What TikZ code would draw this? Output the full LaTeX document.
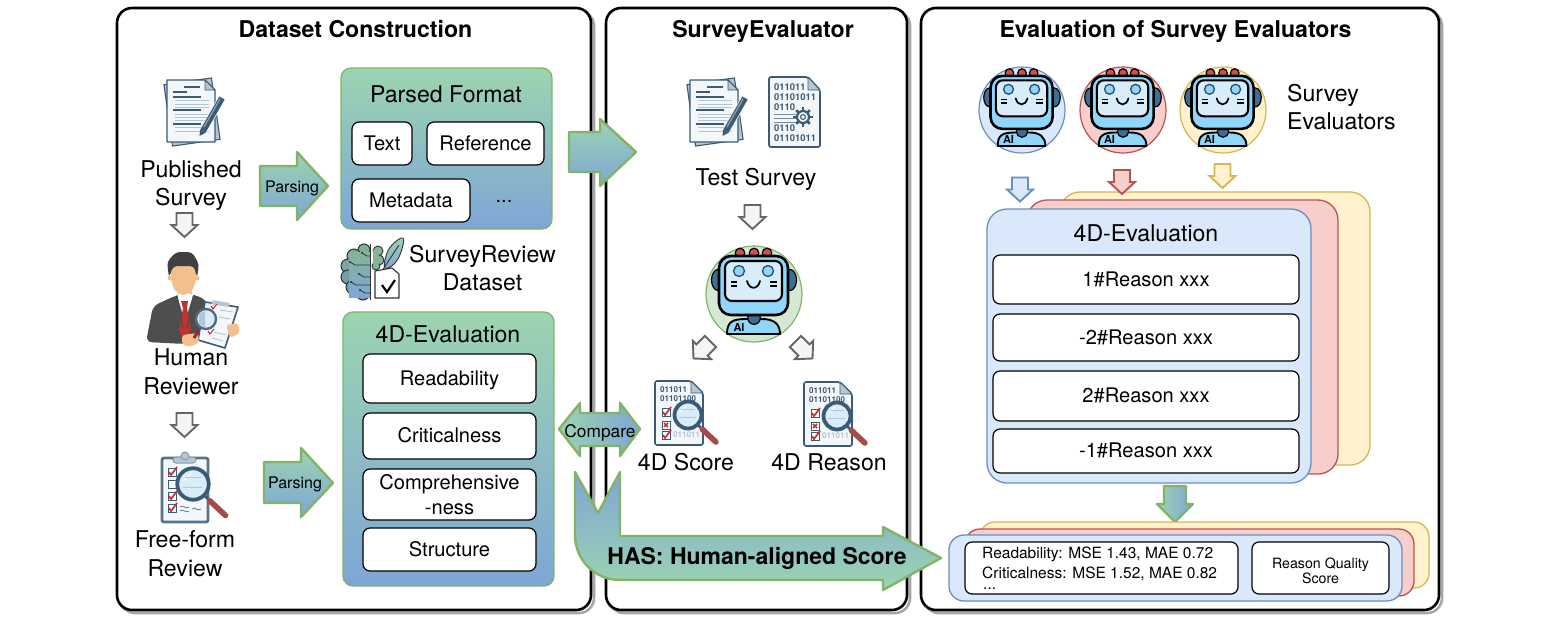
\documentclass[tikz,border=0pt]{standalone}
\usepackage{fontspec}
\setmainfont{TeX Gyre Heros}
\definecolor{gradverde}{HTML}{9CD4B0}
\definecolor{gradazul}{HTML}{7EA6D6}
\definecolor{verdeb}{HTML}{82B366}
\definecolor{verdef}{HTML}{D5E8D4}
\definecolor{azulb}{HTML}{6C8EBF}
\definecolor{azulf}{HTML}{DAE8FC}
\definecolor{vermb}{HTML}{B85450}
\definecolor{vermf}{HTML}{F8CECC}
\definecolor{amarb}{HTML}{D6B656}
\definecolor{amarf}{HTML}{FFF2CC}
\definecolor{ceu}{HTML}{8FD6FA}
\definecolor{tela}{HTML}{D8EDF9}
\definecolor{marinho}{HTML}{3F6E94}
\definecolor{ardosia}{HTML}{3C5A73}
\definecolor{folha}{HTML}{F3F7FA}
\definecolor{nevoa}{HTML}{B4C6D4}
\definecolor{pele}{HTML}{F2C08F}
\definecolor{terno}{HTML}{4E4E4E}
\definecolor{gravata}{HTML}{C0322F}
\tikzset{
panel/.style={draw=black, line width=2.6pt, fill=white, rounded corners=15pt},
sombra/.style={draw=black!35, line width=2.6pt, rounded corners=15pt},
titulo/.style={inner sep=0pt, anchor=base, font=\fontsize{23.1}{27}\selectfont\bfseries},
texto/.style={inner sep=0pt, align=center, font=\fontsize{23.1}{28.5}\selectfont},
menor/.style={inner sep=0pt, align=center, font=\fontsize{20.1}{24.5}\selectfont},
seta12/.style={inner sep=0pt, font=\fontsize{16}{18}\selectfont},
gbox/.style={draw=verdeb, line width=1.3pt, rounded corners=10pt, top color=gradverde, bottom color=gradazul},
wbox/.style={draw=black, line width=1.2pt, fill=white, rounded corners=7pt, inner sep=0pt, align=center,
  font=\fontsize{20.1}{24.5}\selectfont},
linha/.style={text height=14.5pt, text depth=1pt},
seta/.style={draw=verdeb, line width=2.4pt, line join=round},
camada/.style={line width=1.3pt, rounded corners=#1}
}
\tikzset{
pics/hollow/.style={code={
  \draw[pic actions, line width=1.9pt, line join=miter]
    (-8,-12) -- (8,-12) -- (8,0) -- (13,0) -- (0,12) -- (-13,0) -- (-8,0) -- cycle;
}},
pics/lupa/.style={code={
  \draw[line cap=round, line width=2.6pt, draw=ardosia] (11,11) -- (16,16);
  \draw[line cap=round, line width=5.6pt, draw=vermb!90!black] (16,16) -- (31,30);
  \draw[draw=ardosia, line width=3.8pt, fill=tela] (0,0) circle[radius=15];
  \draw[white, line width=1pt] (-9,-3) -- (-2,-10);
  \draw[nevoa, line width=.8pt] (-10,3) -- (9,3) (-8,-6) -- (8,-6);
}},
pics/marca/.style={code={
  \draw[draw=ardosia, line width=.8pt, fill=white] (-4,-4) rectangle (4,4);
  \draw[draw=gravata, line width=1.7pt] (-3,0) -- (-1,3) -- (5,-5);
}},
pics/papel/.style={code={
  % folha de tras
  \draw[rotate=8, draw=ardosia, line width=1.1pt, fill=nevoa] (-24,-31) rectangle (24,31);
  \draw[draw=ardosia, line width=1.1pt, fill=folha, line join=round]
    (-25,-32) -- (13,-32) -- (23,-22) -- (23,30) -- (-25,30) -- cycle;
  \draw[draw=ardosia, line width=.8pt, fill=nevoa] (13,-32) -- (13,-22) -- (23,-22) -- cycle;
  % linhas
  \draw[ardosia, line width=1.1pt] (-8,-25) -- (8,-25) (-19,-20) -- (-5,-20)
    (-19,-15) -- (9,-15) (-19,-2) -- (9,-2) (-19,12) -- (9,12);
  \foreach \ly in {-12,-8,-5,2,5,8,15,19} \draw[nevoa, line width=1pt] (-17,\ly) -- (17,\ly);
  % caneta
  \draw[folha, line width=7.5pt] (30,-14) -- (11,19);
  \draw[ardosia, line width=6pt] (30,-14) -- (11,19);
  \draw[ardosia!60, line width=1.4pt] (28,-13) -- (12,15);
  \fill[ardosia] (13.8,20.6) -- (7.5,24) -- (8.2,17.5) -- cycle;
}},
pics/binario/.style={code={
  \draw[draw=ardosia, line width=1.7pt, fill=folha, line join=round, rounded corners=2pt]
    (-26,-35) -- (13,-35) -- (25,-22) -- (25,35) -- (-26,35) -- cycle;
  \draw[draw=ardosia, line width=.8pt, fill=nevoa, line join=round] (13,-35) -- (13,-22) -- (25,-22) -- cycle;
  \foreach \ly/\dig/\nm in {-25/011011/a,-15/01101011/b,-5/0110/c,16/0110/d,26/01101011/e}
    \node[anchor=west, inner sep=0pt, text=ardosia, font=\fontsize{9.4}{10}\selectfont\bfseries] (dig\nm) at (-21,\ly) {\dig};
  \foreach \ly in {2,6,10} \draw[ardosia!70, line width=1pt] (-21,\ly) -- (1,\ly);
  % engrenagem
  \foreach \ang in {0,45,...,315}
    \draw[ardosia, line width=2.6pt] (8,5) ++(\ang:6) -- ++(\ang:3.6);
  \draw[draw=ardosia, line width=2.2pt, fill=folha] (8,5) circle[radius=6];
  \draw[draw=ardosia, line width=1pt, fill=tela] (8,5) circle[radius=2.5];
}},
pics/nota/.style={code={
  \draw[draw=ardosia, line width=1.6pt, fill=folha, line join=round, rounded corners=2pt]
    (-24,-32) -- (12,-32) -- (24,-20) -- (24,32) -- (-24,32) -- cycle;
  \draw[draw=ardosia, line width=.8pt, fill=nevoa, line join=round] (12,-32) -- (12,-20) -- (24,-20) -- cycle;
  \foreach \ly/\dig/\nm in {-23/011011/a,-14/01101100/b}
    \node[anchor=west, inner sep=0pt, text=ardosia, font=\fontsize{8.1}{9}\selectfont\bfseries] (dig\nm) at (-19,\ly) {\dig};
  \node[anchor=west, inner sep=0pt, text=nevoa, font=\fontsize{8.1}{9}\selectfont\bfseries] (digc) at (-6,22) {011011};
  \pic at (-13,-1) {marca};
  \draw[draw=ardosia, line width=.8pt, fill=white] (-17,8) rectangle (-9,16);
  \draw[draw=gravata, line width=1.6pt] (-15,10) -- (-11,14) (-15,14) -- (-11,10);
  \pic at (-13,22) {marca};
  \pic[scale=.9] at (9,2) {lupa};
}},
pics/prancheta/.style={code={
  \draw[draw=ardosia!85, line width=2.8pt, fill=folha, rounded corners=2pt] (-23,-32) rectangle (23,32);
  \draw[draw=ardosia!60, line width=1pt, fill=nevoa, rounded corners=3pt] (-12,-33) rectangle (11,-27);
  \draw[draw=ardosia!60, line width=1pt, fill=nevoa] (0,-34) circle[radius=4];
  \pic at (-13,-18) {marca};
  \draw[draw=ardosia, line width=.8pt, fill=white] (-17,-10) rectangle (-9,-2);
  \pic at (-13,6) {marca};
  \pic at (-13,18) {marca};
  \draw[ardosia!80, line width=.8pt] (-5,17) .. controls (-2,14) and (1,20) .. (4,17)
    (-5,21) .. controls (-2,18) and (1,24) .. (4,21) (7,19) .. controls (10,16) and (13,22) .. (16,19);
  \pic[scale=1.05] at (8,-6) {lupa};
}},
pics/revisor/.style={code={
  \fill[terno, rounded corners=6pt] (-9,-5) -- (-33,6) -- (-40,42) -- (-1,44) -- (12,42) -- (22,2) -- (11,-5) -- cycle;
  \fill[pele] (-8,-14) rectangle (6,0);
  \fill[white] (-9,-5) -- (-2,-8) -- (7,-5) -- (-1,22) -- cycle;
  \fill[gravata] (-5,1) -- (2,1) -- (1,8) -- (5,30) -- (-1,45) -- (-7,30) -- (-3,8) -- cycle;
  \draw[black!70, line width=1pt] (-9,-5) -- (-3,28) (9,-5) -- (1,28);
  % cabeca
  \fill[pele, rounded corners=7pt] (-15,-36) -- (10,-36) -- (10,-16) -- (3,-5) -- (-8,-5) -- (-15,-16) -- cycle;
  \fill[pele] (-16,-22) circle[radius=2.5] (11,-22) circle[radius=2.5];
  \fill[black!75, rounded corners=4pt] (-17,-22) -- (-19,-38) -- (-10,-48) -- (6,-48) -- (13,-36) -- (11,-22) -- (8,-34) -- (-13,-34) -- cycle;
  % prancheta
  \draw[draw=ardosia, line width=1.6pt, fill=folha, line join=round] (19,2) -- (52,7) -- (39,48) -- (12,40) -- cycle;
  \fill[nevoa, rounded corners=1.5pt] (26,0) -- (44,3) -- (43,7) -- (25,4) -- cycle;
  \draw[nevoa, line width=.9pt] (34,10) -- (47,12) (33,17) -- (44,19) (28,32) -- (40,35) (26,38) -- (37,41);
  \draw[gravata, line width=1pt] (25,6) -- (27,9) -- (31,4) (22,31) -- (24,34) -- (28,29);
  % maos e lupa
  \fill[pele, rounded corners=3pt] (40,25) -- (52,23) -- (54,33) -- (44,38) -- cycle;
  \fill[pele, rounded corners=3pt] (-4,35) -- (12,33) -- (13,43) -- (3,47) -- (-4,44) -- cycle;
  \draw[gravata!80!black, line width=3pt] (13,30) -- (8,38);
  \draw[draw=ardosia!90, line width=2.4pt, fill=tela] (20,19) circle[radius=10];
  \fill[nevoa] (13,14) -- (19,11) -- (19,27) -- (13,24) -- cycle;
}},
pics/cerebro/.style={code={
  % lobos
  \begin{scope}
    \clip (-40,-30) rectangle (-2,35);
    \foreach \lx/\ly/\lr/\mix in {-8/-18/6/15,-18/-12/7/25,-24/-2/7/40,-24/9/7/55,-19/19/7/70,-9/25/7/85}
      \draw[draw=black!80, line width=1pt, fill=gradazul!\mix!gradverde!85!black] (\lx,\ly) circle[radius=\lr];
    \shade[top color=gradverde!85!black, bottom color=gradazul] (-23,-16) rectangle (-2,29);
  \end{scope}
  \draw[black!80, line width=1pt] (-2,-24) -- (-2,32);
  \foreach \lx/\ly/\lr in {6/-17/5,7/-8/5,4/-2/4}
    \draw[draw=black!80, line width=.9pt, fill=gradverde!85!black] (\lx,\ly) circle[radius=\lr];
  \fill[gradverde!85!black] (1,-18) rectangle (7,-4);
  \foreach \pa/\pb in {-22/-6,-13/6,-21/14,-10/-15,-12/22}
    \draw[black!80, line width=.8pt] (\pa,\pb) -- ++(5,3) -- (-2,\pb+3);
  \foreach \pa/\pb in {-22/-6,-13/6,-21/14,-10/-15,-12/22}
    \fill[black!80] (\pa,\pb) circle[radius=1.2];
  % pena
  \draw[draw=black!80, line width=.9pt, top color=gradverde, bottom color=gradazul]
    plot[smooth cycle, tension=.7] coordinates {(31,-30) (29,-16) (22,-4) (13,0) (14,-12) (20,-23)};
  \draw[black!80, line width=.9pt] (27,-23) -- (8,6);
  % documento
  \draw[draw=black!80, line width=1.1pt, fill=white, line join=round] (3,3) -- (20,0) -- (27,6) -- (27,30) -- (3,30) -- cycle;
  \draw[black, line width=2.2pt] (10,17) -- (15,24) -- (23,12);
}},
pics/robo/.style={code={
  \foreach \bx in {-14,0,13} \draw[draw=black, line width=1.2pt, fill=gravata!85] (\bx,-41) circle[radius=4.8];
  \foreach \ex in {-36,36} \draw[draw=black, line width=1.2pt, fill=marinho] (\ex,-14) ellipse[x radius=6.5, y radius=10.5];
  \draw[draw=black, line width=1.9pt, fill=ceu, line join=round] (-27,40) .. controls (-27,28) and (-22,25) .. (-8,25)
    -- (8,25) .. controls (20,25) and (26,30) .. (26,40) -- cycle;
  \draw[black, line width=2.4pt] (-27,40) -- (26,40);
  \draw[draw=black, line width=1.2pt, fill=marinho] (0,24) circle[radius=6.3];
  \draw[draw=black, line width=2.6pt, fill=ceu, rounded corners=12pt] (-35,-38) rectangle (34,21);
  \draw[draw=black, line width=2.1pt, fill=tela, rounded corners=7pt] (-29,-33) rectangle (28,7);
  \foreach \ex in {-15,14} \draw[draw=marinho!70!black, line width=1.3pt, fill=ceu] (\ex,-23) circle[radius=5.5];
  \draw[black, line width=1.7pt, line cap=round] (-7,-13) .. controls (-5,-4) and (4,-4) .. (6,-13);
  \draw[black, line width=1.4pt] (-23,-12) -- (-17,-12) (-23,-8) -- (-17,-8) (16,-12) -- (23,-12) (16,-8) -- (23,-8);
  \node[inner sep=0pt, font=\fontsize{11}{12}\selectfont\bfseries] (ai) at (-15,33) {AI};
}}
}
\begin{document}
\begin{tikzpicture}[x=1pt,y=-1pt]
  \path[use as bounding box, fill=white] (0,0) rectangle (1557,624);

  % PAINEIS
  \foreach \xa/\xb in {117/591,606/907,921/1439} {
    \draw[sombra] (\xa+3,11) rectangle (\xb+3,613);
    \draw[panel] (\xa,8) rectangle (\xb,610);
  }
  \node[titulo] (t1) at (355.5,37) {Dataset Construction};
  \node[titulo] (t2) at (763,37) {SurveyEvaluator};
  \node[titulo] (t3) at (1175.5,37) {Evaluation of Survey Evaluators};

  % COLUNA ESQUERDA
  \pic (p1) at (192,112) {papel};
  \node[texto] (pub) at (191,185.5) {Published\\Survey};
  \pic[draw=black!60, fill=black!4] (a1) at (184.5,225) {hollow};
  \pic (hr) at (186,300) {revisor};
  \node[texto] (hum) at (191,371.5) {Human\\Reviewer};
  \pic[draw=black!60, fill=black!4] (a2) at (184.5,425) {hollow};
  \pic (cb) at (185,490) {prancheta};
  \node[texto] (ffr) at (185,553.5) {Free-form\\Review};

  % PARSING
  \draw[seta, top color=gradverde, bottom color=gradazul] (260,166) -- (297,166) -- (297,152) -- (328,186) -- (297,220) -- (297,206) -- (260,206) -- cycle;
  \node[seta12] (par1) at (292,188) {Parsing};
  \draw[seta, top color=gradverde, bottom color=gradazul] (264,462) -- (301,462) -- (301,448) -- (333,483) -- (301,517) -- (301,503) -- (264,503) -- cycle;
  \node[seta12] (par2) at (295,484) {Parsing};

  % FORMATO
  \draw[gbox] (341,68) rectangle (552,229);
  \node[texto] (pf) at (446,94) {Parsed Format};
  \node[wbox, linha, minimum width=60pt, minimum height=43pt] (txt) at (382,143.5) {Text};
  \node[wbox, linha, minimum width=117pt, minimum height=43pt] (ref) at (485.5,143.5) {Reference};
  \node[wbox, linha, minimum width=118pt, minimum height=43pt] (meta) at (411,200.5) {Metadata};
  \node[menor] (dots) at (504,201) {...};

  \pic (br) at (372,268) {cerebro};
  \node[texto] (srd) at (482.5,268) {SurveyReview\\Dataset};

  % 4D A ESQUERDA
  \draw[gbox] (343,312) rectangle (554,586);
  \node[texto] (ev1) at (448,334) {4D-Evaluation};
  \foreach \cy/\alt/\nm/\lb in {378.5/49/rd/Readability,436/46/cr/Criticalness,549.5/43/st/Structure}
    \node[wbox, linha, minimum width=173pt, minimum height=\alt pt] (\nm) at (449.5,\cy) {\lb};
  \node[wbox, minimum width=173pt, minimum height=51pt] (co) at (449.5,494.5) {Comprehensive\\-ness};

  % SURVEY EVALUATOR
  \draw[seta, top color=gradverde, bottom color=gradazul] (569,132) -- (600,132) -- (600,119) -- (636,152) -- (600,186) -- (600,172) -- (569,172) -- cycle;
  \pic (p2) at (715,112) {papel};
  \pic (bn) at (795,112) {binario};
  \node[texto] (ts) at (756,179) {Test Survey};
  \pic[draw=black!60, fill=black!4] (a3) at (752.5,217) {hollow};
  \draw[draw=verdeb, line width=1.2pt, fill=verdef] (754,294) circle[radius=48];
  \pic (rb) at (754,294) {robo};
  \pic[draw=black!60, fill=black!4, rotate=-45] (a4) at (702,350) {hollow};
  \pic[draw=black!60, fill=black!4, rotate=45] (a5) at (804,350) {hollow};
  \pic (n1) at (679,413) {nota};
  \pic (n2) at (828,414) {nota};
  \node[texto] (sc) at (686,462) {4D Score};
  \node[texto] (re) at (829,462) {4D Reason};

  % COMPARE E HAS
  \draw[seta, left color=gradverde, right color=gradazul] (559,429) -- (580,403) -- (580,413) -- (620,413) -- (620,403) -- (640,429) -- (620,456) -- (620,446) -- (580,446) -- (580,456) -- cycle;
  \node[inner sep=0pt, font=\fontsize{17.3}{20}\selectfont] (cmp) at (600,432.5) {Compare};
  \draw[seta, top color=gradazul, middle color=gradverde!70!gradazul, bottom color=gradverde] (575,472) -- (598,513) -- (620,472) -- (620,536) -- (883,536) -- (883,527) -- (941,558) -- (883,590) -- (883,580) -- (620,580) .. controls (595,580) and (575,560) .. (575,535) -- cycle;
  \node[inner sep=0pt, font=\fontsize{23}{27}\selectfont\bfseries] (has) at (757,558) {HAS: Human-aligned Score};

  % AVALIADORES
  \foreach \cx/\cf/\cb/\nm in {1022/azulf/azulb/ra,1123/vermf/vermb/rv,1223/amarf/amarb/rm} {
    \draw[draw=\cb, line width=1.2pt, fill=\cf] (\cx,110) circle[radius=43];
    \pic[scale=.9] (\nm) at (\cx,110) {robo};
  }
  \node[anchor=west, texto, align=left] (sev) at (1287,107) {Survey\\Evaluators};
  \pic[draw=azulb, fill=azulf] (a6) at (1020,189.5) {hollow};

  % PILHA 4D
  \draw[camada=20pt, draw=amarb, fill=amarf] (1060,192) rectangle (1370,465);
  \draw[camada=20pt, draw=vermb, fill=vermf] (1027,200) rectangle (1338,474);
  \draw[camada=20pt, draw=azulb, fill=azulf] (987,209) rectangle (1311,483);
  \pic[draw=vermb, fill=vermf] (a7) at (1122,182) {hollow};
  \pic[draw=amarb, fill=amarf] (a8) at (1222.5,176) {hollow};
  \node[texto] (ev2) at (1146,233) {4D-Evaluation};
  \foreach \cy/\alt/\nm/\lb in {279.5/49/r1/1\#Reason xxx,337.5/47/r2/-2\#Reason xxx,396/50/r3/2\#Reason xxx,451/44/r4/-1\#Reason xxx}
    \node[wbox, linha, minimum width=306pt, minimum height=\alt pt] (\nm) at (1146,\cy) {\lb};

  % RESULTADO
  \draw[seta, left color=gradverde, right color=gradazul] (1164,486) -- (1186,486) -- (1186,504) -- (1193,504) -- (1175,522) -- (1157,504) -- (1164,504) -- cycle;
  \draw[camada=15pt, draw=amarb, fill=amarf] (980,522) rectangle (1429,588);
  \draw[camada=15pt, draw=vermb, fill=vermf] (965,529) rectangle (1414,596);
  \draw[camada=15pt, draw=azulb, fill=azulf] (949,535) rectangle (1402,601);
  \node[wbox, minimum width=273pt, minimum height=52pt] (mse) at (1101.5,568) {};
  \node[anchor=west, inner sep=0pt, font=\fontsize{15.5}{19}\selectfont] (l1) at (982,554) {Readability: MSE 1.43, MAE 0.72};
  \node[anchor=west, inner sep=0pt, font=\fontsize{15.5}{19}\selectfont] (l2) at (982,573.5) {Criticalness: MSE 1.52, MAE 0.82};
  \node[anchor=west, inner sep=0pt, font=\fontsize{15.5}{19}\selectfont] (l3) at (983,589) {...};
  \node[wbox, minimum width=137pt, minimum height=52pt] (rqs) at (1320.5,568) {};
  \node[inner sep=0pt, align=center, font=\fontsize{14.2}{15}\selectfont] (rqt) at (1320.5,570.5) {Reason Quality\\Score};
\end{tikzpicture}
\end{document}
